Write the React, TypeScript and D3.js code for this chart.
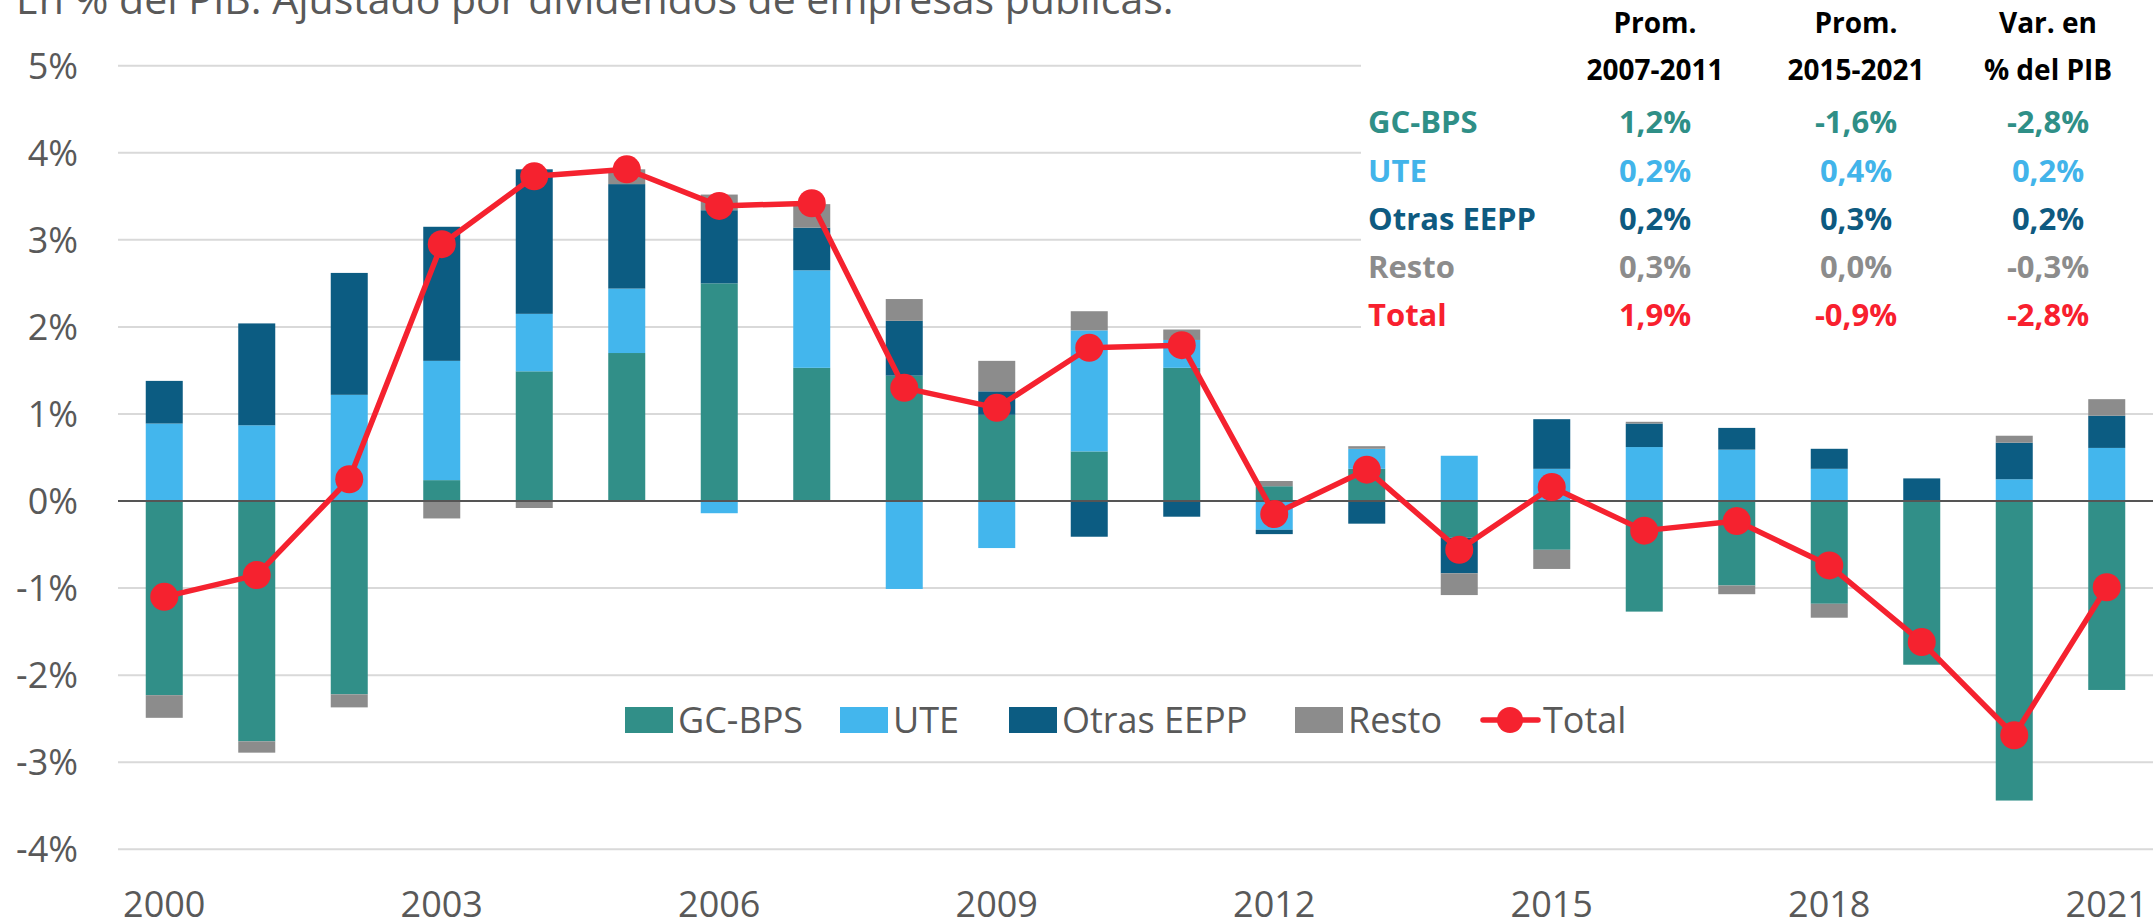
import React from 'react';
import * as d3 from 'd3';

// years on the x axis
const years = [
  '2000', '2001', '2002', '2003', '2004', '2005', '2006', '2007', '2008', '2009', '2010',
  '2011', '2012', '2013', '2014', '2015', '2016', '2017', '2018', '2019', '2020', '2021',
];

// components, % of GDP
const gcBps = [-2.23, -2.76, -2.22, 0.24, 1.49, 1.70, 2.50, 1.53, 1.44, 0.99, 0.57, 1.53, 0.17, 0.37, -0.42, -0.56, -1.27, -0.97, -1.18, -1.88, -3.44, -2.17];
const ute = [0.89, 0.87, 1.22, 1.37, 0.66, 0.74, -0.14, 1.12, -1.01, -0.54, 1.39, 0.32, -0.33, 0.23, 0.52, 0.37, 0.62, 0.59, 0.37, 0.0, 0.25, 0.61];
const otrasEepp = [0.49, 1.17, 1.40, 1.54, 1.66, 1.20, 0.84, 0.49, 0.63, 0.27, -0.41, -0.18, -0.05, -0.26, -0.41, 0.57, 0.27, 0.25, 0.23, 0.26, 0.42, 0.37];
const resto = [-0.26, -0.13, -0.15, -0.20, -0.08, 0.17, 0.18, 0.27, 0.25, 0.35, 0.22, 0.12, 0.06, 0.03, -0.25, -0.22, 0.02, -0.10, -0.16, 0.0, 0.08, 0.19];
const total = [-1.10, -0.85, 0.25, 2.95, 3.73, 3.81, 3.39, 3.42, 1.30, 1.07, 1.76, 1.79, -0.15, 0.36, -0.56, 0.16, -0.34, -0.23, -0.74, -1.62, -2.69, -0.99];

const yTicks = [-4, -3, -2, -1, 0, 1, 2, 3, 4, 5];
const xTickYears = ['2000', '2003', '2006', '2009', '2012', '2015', '2018', '2021'];

const seriesNames = ['GC-BPS', 'UTE', 'Otras EEPP', 'Resto'];
const seriesColors = ['#318f88', '#43b6ed', '#0c5c82', '#8c8c8c'];
const totalColor = '#f5222f';

// summary table in the top right corner
const tableHeaders = [['Prom.', '2007-2011'], ['Prom.', '2015-2021'], ['Var. en', '% del PIB']];
const tableRowNames = ['GC-BPS', 'UTE', 'Otras EEPP', 'Resto', 'Total'];
const tableValues = [
  ['1,2%', '-1,6%', '-2,8%'],
  ['0,2%', '0,4%', '0,2%'],
  ['0,2%', '0,3%', '0,2%'],
  ['0,3%', '0,0%', '-0,3%'],
  ['1,9%', '-0,9%', '-2,8%'],
];
const tableColors = ['#2f8f87', '#42b4ea', '#0e5a80', '#8c8c8c', '#f8202e'];

const title = 'En % del PIB. Ajustado por dividendos de empresas públicas.';

const W = 2153;
const H = 923;
const font = "'Open Sans', sans-serif";
const axisColor = '#595959';

export default function App() {
  //build rows for d3.stack
  const rows = years.map((yr, i) => ({
    year: yr,
    'GC-BPS': gcBps[i],
    UTE: ute[i],
    'Otras EEPP': otrasEepp[i],
    Resto: resto[i],
  }));

  const stacked = d3.stack<any>()
    .keys(seriesNames)
    .offset(d3.stackOffsetDiverging)(rows);

  const x = d3.scaleBand()
    .domain(years)
    .range([118, W])
    .paddingInner(0.6)
    .paddingOuter(0.3);

  const y = d3.scaleLinear()
    .domain([-4, 5])
    .range([849.3, 65.7]);

  const cx = (yr: string) => (x(yr) as number) + x.bandwidth() / 2;

  const line = d3.line<number>()
    .x((_, i) => cx(years[i]))
    .y(d => y(d));

  // legend layout
  const legendY = 720;
  const legendRectX = [625, 840, 1009, 1295];
  const tableLeft = 1361;
  const colX = [1655, 1856, 2048];
  const rowY = [133, 182, 230, 278, 326];

  return (
    <svg width={W} height={H} style={{ position: 'absolute', left: 0, top: 0, background: '#fff' }}
      fontFamily={font}>
      {/* title (cut by the top edge) */}
      <text x={16} y={14} fontSize={41} fill={axisColor}>{title}</text>

      {/* gridlines */}
      {yTicks.filter(t => t !== 0).map(t => (
        <line key={t} x1={118} x2={W} y1={y(t)} y2={y(t)} stroke="#d9d9d9" strokeWidth={2} />
      ))}

      {/* y labels */}
      {yTicks.map(t => (
        <text key={t} x={78} y={y(t)} dy="0.36em" textAnchor="end" fontSize={36} fill={axisColor}>
          {t}%
        </text>
      ))}

      {/* bars */}
      {stacked.map((s, k) => (
        <g key={s.key} fill={seriesColors[k]}>
          {s.map((d, i) => (
            <rect key={i}
              x={x(years[i])}
              y={y(Math.max(d[0], d[1]))}
              width={x.bandwidth()}
              height={Math.abs(y(d[0]) - y(d[1]))} />
          ))}
        </g>
      ))}

      {/* zero line */}
      <line x1={118} x2={W} y1={y(0)} y2={y(0)} stroke="#555" strokeWidth={2} />

      {/* total line */}
      <path d={line(total) as string} fill="none" stroke={totalColor} strokeWidth={5.5} strokeLinejoin="round" />
      {total.map((v, i) => (
        <circle key={i} cx={cx(years[i])} cy={y(v)} r={14} fill={totalColor} />
      ))}

      {/* x labels */}
      {xTickYears.map(yr => (
        <text key={yr} x={cx(yr)} y={917} textAnchor="middle" fontSize={36} fill={axisColor}>{yr}</text>
      ))}

      {/* legend */}
      {seriesNames.map((n, k) => (
        <g key={n}>
          <rect x={legendRectX[k]} y={legendY - 13} width={48} height={26} fill={seriesColors[k]} />
          <text x={legendRectX[k] + 53} y={legendY} dy="0.36em" fontSize={36} fill={axisColor}>{n}</text>
        </g>
      ))}
      <line x1={1483} x2={1538} y1={legendY} y2={legendY} stroke={totalColor} strokeWidth={5.5} strokeLinecap="round" />
      <circle cx={1510} cy={legendY} r={13} fill={totalColor} />
      <text x={1543} y={legendY} dy="0.36em" fontSize={36} fill={axisColor}>Total</text>

      {/* table */}
      <rect x={tableLeft} y={0} width={W - tableLeft} height={340} fill="#fff" />
      {tableHeaders.map((h, c) => (
        <g key={c}>
          <text x={colX[c]} y={33} textAnchor="middle" fontSize={28} fontWeight="bold" fill="#000">{h[0]}</text>
          <text x={colX[c]} y={80} textAnchor="middle" fontSize={28} fontWeight="bold" fill="#000">{h[1]}</text>
        </g>
      ))}
      {tableRowNames.map((n, r) => (
        <g key={n} fill={tableColors[r]} fontSize={31} fontWeight="bold">
          <text x={1368} y={rowY[r]}>{n}</text>
          {tableValues[r].map((v, c) => (
            <text key={c} x={colX[c]} y={rowY[r]} textAnchor="middle">{v}</text>
          ))}
        </g>
      ))}
    </svg>
  );
}
